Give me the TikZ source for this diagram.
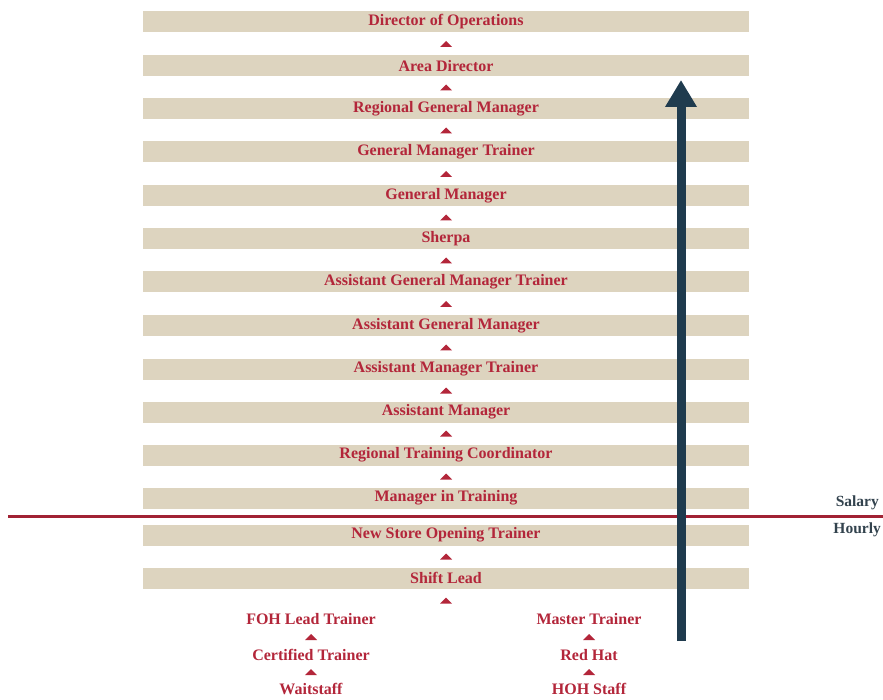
\documentclass[tikz,border=0pt]{standalone}
\usepackage{fontspec}
\setmainfont{Liberation Serif}
\usetikzlibrary{calc,arrows.meta}
\definecolor{bartan}{HTML}{DDD4BF}
\definecolor{titlered}{HTML}{B3263A}
\definecolor{risecol}{HTML}{1F3B4E}
\definecolor{paylabel}{HTML}{33434E}
\tikzset{
	rung/.style={fill=bartan, minimum width=606pt, minimum height=21pt, inner sep=0pt,
		text=titlered, font=\bfseries\fontsize{16}{18}\selectfont},
	entry/.style={inner sep=0pt, text=titlered, font=\bfseries\fontsize{16}{18}\selectfont},
	paytag/.style={inner sep=0pt, anchor=east, text=paylabel, font=\bfseries\fontsize{15.5}{18}\selectfont},
}
\newcommand{\uptip}[1]{\fill[titlered] #1 ++(-6,3) -- ++(12,0) -- ++(-6,-6) -- cycle;}
\begin{document}
\begin{tikzpicture}[x=1pt,y=-1pt]
	\useasboundingbox (0,0) rectangle (883,700);
	% salary / hourly divider
	\draw[titlered!90!black, line width=3pt] (8,516)--(883,516);
	\node[paytag] (salary) at (879,503) {Salary};
	\node[paytag] (hourly) at (881,530) {Hourly};
	% ladder
	\foreach \y/\n/\t in {22/r1/Director of Operations,66/r2/Area Director,109/r3/Regional General Manager,
		152/r4/General Manager Trainer,196/r5/General Manager,239/r6/Sherpa,282/r7/Assistant General Manager Trainer,
		326/r8/Assistant General Manager,369/r9/Assistant Manager Trainer,412/r10/Assistant Manager,
		455/r11/Regional Training Coordinator,498/r12/Manager in Training,535/r13/New Store Opening Trainer,578/r14/Shift Lead}{
		\node[rung] (\n) at (446,\y) {\t};
	}
	\foreach \a/\b in {r2/r1,r3/r2,r4/r3,r5/r4,r6/r5,r7/r6,r8/r7,r9/r8,r10/r9,r11/r10,r12/r11,r14/r13}{
		\uptip{($(\a.north)!0.5!(\b.south)$)}
	}
	% front and back of house
	\node[entry] (foh) at (311,619) {FOH Lead Trainer};
	\node[entry] (cert) at (311,655) {Certified Trainer};
	\node[entry] (wait) at (311,689) {Waitstaff};
	\node[entry] (master) at (589,619) {Master Trainer};
	\node[entry] (redhat) at (589,655) {Red Hat};
	\node[entry] (hoh) at (589,689) {HOH Staff};
	\foreach \a/\b in {cert/foh,wait/cert,redhat/master,hoh/redhat}{
		\uptip{($(\a.center)!0.5!(\b.center)$)}
	}
	\uptip{($(r14.south)+(0,12)$)}
	% career arrow
	\coordinate (rise0) at (681,641);
	\coordinate (rise1) at (681,80);
	\draw[risecol, line width=9pt, -{Triangle[width=30pt,length=27pt]}] (rise0)--(rise1);
\end{tikzpicture}
\end{document}
